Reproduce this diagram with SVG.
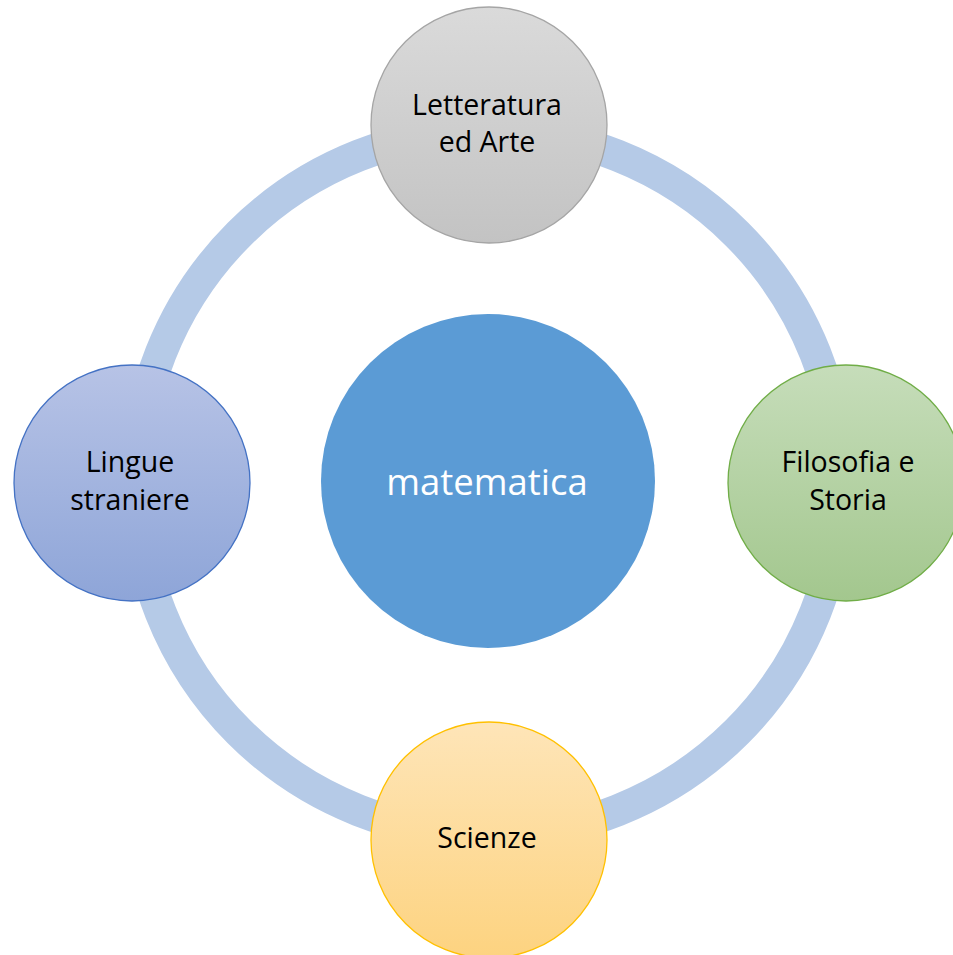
<svg xmlns="http://www.w3.org/2000/svg" width="953" height="955" viewBox="0 0 953 955">
<style>
.lbl{font-family:"Open Sans","Liberation Sans",sans-serif;font-size:28.5px;fill:#000;text-anchor:middle;font-variant-ligatures:none}
.ctr{font-family:"Open Sans","Liberation Sans",sans-serif;font-size:36.5px;fill:#fff;text-anchor:middle;font-variant-ligatures:none}
.node{stroke-width:1.3}
</style>
<defs>
<linearGradient id="gGrey" x1="0" y1="0" x2="0" y2="1"><stop offset="0" stop-color="#dadada"/><stop offset="1" stop-color="#c3c3c3"/></linearGradient>
<linearGradient id="gBlue" x1="0" y1="0" x2="0" y2="1"><stop offset="0" stop-color="#b7c3e6"/><stop offset="1" stop-color="#8ea5d8"/></linearGradient>
<linearGradient id="gGreen" x1="0" y1="0" x2="0" y2="1"><stop offset="0" stop-color="#c6ddba"/><stop offset="1" stop-color="#a3c78e"/></linearGradient>
<linearGradient id="gGold" x1="0" y1="0" x2="0" y2="1"><stop offset="0" stop-color="#fee5b8"/><stop offset="1" stop-color="#fdd380"/></linearGradient>
</defs>
<rect width="953" height="955" fill="#fff"/>
<g id="connectors">
<circle cx="488" cy="483" r="352" fill="none" stroke="#b5cae7" stroke-width="32"/>
</g>
<g id="matematica">
<circle cx="488" cy="481" r="167" fill="#5b9bd5"/>
<text class="ctr" x="487" y="495">matematica</text>
</g>
<g id="letteratura">
<circle class="node" cx="489" cy="125" r="118" fill="url(#gGrey)" stroke="#a5a5a5"/>
<text class="lbl" x="487" y="115">Letteratura</text>
<text class="lbl" x="487" y="152">ed Arte</text>
</g>
<g id="lingue">
<circle class="node" cx="132" cy="483" r="118" fill="url(#gBlue)" stroke="#4472c4"/>
<text class="lbl" x="130" y="472">Lingue</text>
<text class="lbl" x="130" y="510">straniere</text>
</g>
<g id="filosofia">
<circle class="node" cx="846" cy="483" r="118" fill="url(#gGreen)" stroke="#70ad47"/>
<text class="lbl" x="848" y="472">Filosofia e</text>
<text class="lbl" x="848" y="510">Storia</text>
</g>
<g id="scienze">
<circle class="node" cx="489" cy="840" r="118" fill="url(#gGold)" stroke="#ffc000"/>
<text class="lbl" x="487" y="848">Scienze</text>
</g>
</svg>
